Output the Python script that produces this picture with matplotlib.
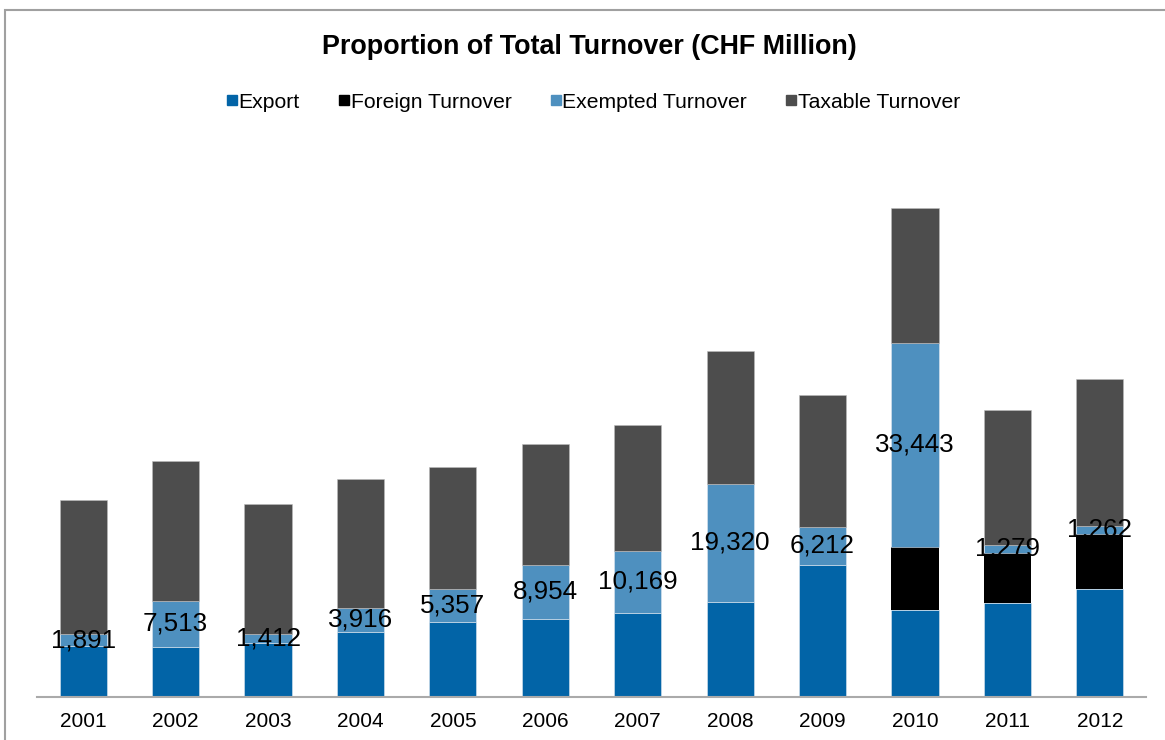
import matplotlib.pyplot as plt
from matplotlib.lines import Line2D
from matplotlib.patches import Rectangle
import numpy as np

plt.rcParams['font.family'] = ['Liberation Sans', 'DejaVu Sans']

# Data (CHF million)
years = ['2001', '2002', '2003', '2004', '2005', '2006',
         '2007', '2008', '2009', '2010', '2011', '2012']
export = [8315, 8200, 8856, 10660, 12300, 12694,
          13776, 15580, 21648, 14219, 15367, 17696]
foreign = [0, 0, 0, 0, 0, 0, 0, 0, 0, 10381, 8249, 9036]
exempted = [1891, 7513, 1412, 3916, 5357, 8954,
            10169, 19320, 6212, 33443, 1279, 1262]
taxable = [21976, 22960, 21320, 21156, 20008, 19795,
           20615, 21861, 21599, 22042, 22173, 24108]

c_export = '#0264A7'
c_foreign = '#000000'
c_exempted = '#4E90BF'
c_taxable = '#4D4D4D'

fig = plt.figure(figsize=(11.65, 7.4), dpi=100)
ax = fig.add_axes([37 / 1165, 1 - 696.7 / 740, (1146 - 37) / 1165, (696.7 - 150) / 740])

x = np.arange(len(years))
w = 0.51
export = np.array(export)
foreign = np.array(foreign)
exempted = np.array(exempted)
taxable = np.array(taxable)

ax.bar(x, export, w, color=c_export, edgecolor='#dde6f0', linewidth=0.4)
ax.bar(x, foreign, w, bottom=export, color=c_foreign, linewidth=0)
b2 = export + foreign
ax.bar(x, exempted, w, bottom=b2, color=c_exempted, edgecolor='#dde6f0', linewidth=0.4)
b3 = b2 + exempted
ax.bar(x, taxable, w, bottom=b3, color=c_taxable, edgecolor='#bbbbbb', linewidth=0.4)

# data labels on the exempted segment
for xi, bottom, val in zip(x, b2, exempted):
    ax.text(xi, bottom + val / 2, f'{val:,}', ha='center', va='center',
            fontsize=18.7, color='black')

ax.set_xlim(-0.5, 11.5)
ax.set_ylim(0, (696.7 - 150) * 164)
ax.set_xticks(x)
ax.set_xticklabels(years, fontsize=15)
ax.tick_params(axis='x', length=0, pad=11)
ax.set_yticks([])
for s in ['top', 'right', 'left']:
    ax.spines[s].set_visible(False)
ax.spines['bottom'].set_color('#aaaaaa')
ax.spines['bottom'].set_linewidth(1.5)

fig.text(589 / 1165, 1 - 47 / 740, 'Proportion of Total Turnover (CHF Million)',
         ha='center', va='center', fontsize=19.4, fontweight='bold')

handles = [Line2D([], [], marker='s', linestyle='', color=c, markersize=6.5)
           for c in [c_export, c_foreign, c_exempted, c_taxable]]
labels = ['Export', 'Foreign Turnover', 'Exempted Turnover', 'Taxable Turnover']
fig.legend(handles, labels, loc='center', bbox_to_anchor=(594 / 1165, 1 - 102 / 740),
           ncol=4, frameon=False, fontsize=15.2, handlelength=0.4,
           handletextpad=0.1, columnspacing=1.9)

# outer chart frame (runs off the right and bottom edges)
fig.patches.append(Rectangle((4.5 / 1165, -0.05), 1.2, 1 - 10 / 740 + 0.05,
                             transform=fig.transFigure, fill=False,
                             edgecolor='#a0a0a0', linewidth=1.5))

plt.savefig('out.png', dpi=100)
